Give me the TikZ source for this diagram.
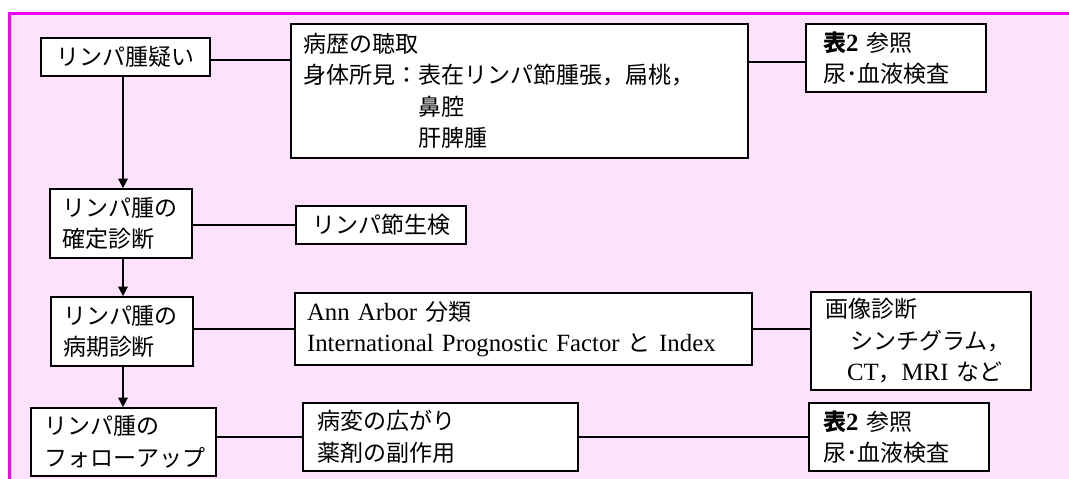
\documentclass[tikz,border=0pt]{standalone}
\usepackage{fontspec}
\setmainfont{Liberation Serif}
\newfontfamily\jpfont{Noto Sans CJK JP}
\newcommand\J[1]{{\fontsize{23}{31.5}\selectfont\jpfont #1}}
\usetikzlibrary{arrows.meta}
\definecolor{bgpink}{RGB}{253,226,253}
\definecolor{framemag}{RGB}{240,0,240}
\begin{document}
\begin{tikzpicture}[x=1pt,y=-1pt,
  box/.style={draw, fill=white, line width=1.7pt, align=left, inner ysep=0pt,
    font=\fontsize{24.8}{31.5}\selectfont},
  link/.style={line width=1.2pt},
  arr/.style={line width=1.4pt, -{Triangle[width=9.5pt,length=9.5pt]}}]
\useasboundingbox (0,0) rectangle (1069,479);
\fill[bgpink] (8,12) rectangle (1069,479);
\draw[framemag, line width=3pt] (9.5,479) -- (9.5,13.5) -- (1069,13.5);

\node[box, align=center, text width=149pt, inner xsep=10pt, minimum height=38pt] (b1) at (125.5,57) {\J{リンパ腫疑い}};
\node[box, text width=433pt, inner xsep=12pt, minimum height=134pt] (b2) at (519.5,91)
  {\J{病歴の聴取}\\ \J{身体所見：表在リンパ節腫張，扁桃，}\\ \hspace*{115pt}\J{鼻腔}\\ \hspace*{115pt}\J{肝脾腫}};
\node[box, text width=146pt, inner xsep=17pt, minimum height=68pt] (b3) at (896,58)
  {\textbf{\J{表}2} \J{参照}\\ \J{尿･血液検査}};

\node[box, text width=118pt, inner xsep=12pt, minimum height=69pt] (b4) at (121,223.5)
  {\J{リンパ腫の}\\ \J{確定診断}};
\node[box, align=center, text width=150pt, inner xsep=10pt, minimum height=38pt] (b5) at (381,225)
  {\J{リンパ節生検}};

\node[box, text width=118pt, inner xsep=12pt, minimum height=69pt] (b6) at (122,331.5)
  {\J{リンパ腫の}\\ \J{病期診断}};
\node[box, text width=433pt, inner xsep=12pt, minimum height=72pt] (b7) at (523.5,329)
  {Ann Arbor \J{分類}\\ International Prognostic Factor \J{と} Index};
\node[box, text width=192pt, inner xsep=14pt, minimum height=98pt] (b8) at (921,341)
  {\J{画像診断}\\ \hspace*{25pt}\J{シンチグラム，}\\ \hspace*{22pt}CT\J{，}MRI \J{など}};

\node[box, text width=157pt, inner xsep=14pt, minimum height=68pt] (b9) at (123.5,442)
  {\J{リンパ腫の}\\ \J{フォローアップ}};
\node[box, text width=247pt, inner xsep=14pt, minimum height=68pt] (b10) at (440.5,437)
  {\J{病変の広がり}\\ \J{薬剤の副作用}};
\node[box, text width=152pt, inner xsep=14pt, minimum height=68pt] (b11) at (899,437)
  {\textbf{\J{表}2} \J{参照}\\ \J{尿･血液検査}};

% connectors
\coordinate (c12) at ([yshift=-3pt]b1.east);
\draw[link] (c12) -- (c12 -| b2.west);
\coordinate (c23) at ([yshift=-4pt]b3.west);
\draw[link] (c23 -| b2.east) -- (c23);
\draw[link] (b5.west -| b4.east) -- (b5.west);
\draw[link] (b7.west -| b6.east) -- (b7.west);
\draw[link] (b7.east) -- (b7.east -| b8.west);
\draw[link] (b10.west -| b9.east) -- (b10.west);
\draw[link] (b11.west -| b10.east) -- (b11.west);

% arrows
\coordinate (ax) at (123,0);
\draw[arr] (ax |- b1.south) -- (ax |- b4.north);
\draw[arr] (ax |- b4.south) -- (ax |- b6.north);
\draw[arr] (ax |- b6.south) -- (ax |- b9.north);
\end{tikzpicture}
\end{document}
